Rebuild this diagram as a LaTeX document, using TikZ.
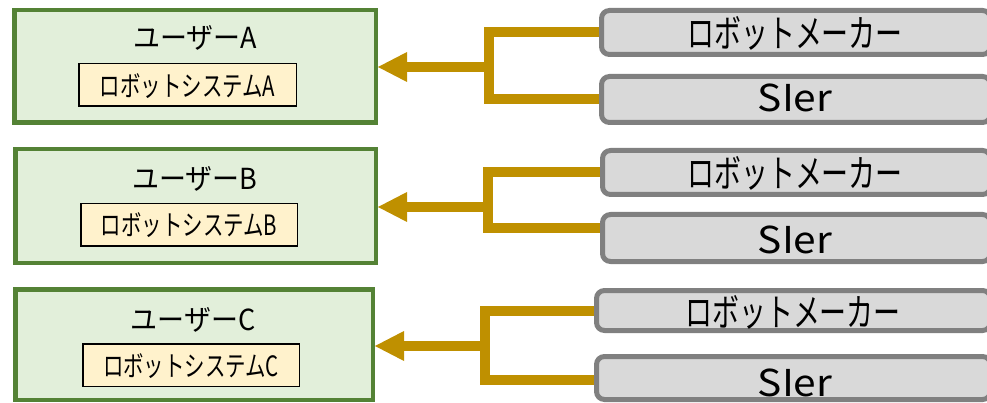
\documentclass[tikz,border=0pt]{standalone}
\usepackage{fontspec}
\setmainfont{Noto Sans CJK JP}
\usetikzlibrary{arrows.meta}
\definecolor{ugreen}{HTML}{548235}
\definecolor{ufill}{HTML}{E2EFDA}
\definecolor{sysfill}{HTML}{FFF2CC}
\definecolor{pgray}{HTML}{808080}
\definecolor{pfill}{HTML}{D9D9D9}
\definecolor{gold}{HTML}{BF9000}
\newcommand{\hsc}[2]{\scalebox{#1}[1]{#2}}
\tikzset{
  userbox/.style={draw=ugreen, fill=ufill, line width=4.5pt, rectangle, inner sep=0pt},
  sysbox/.style={draw=black, fill=sysfill, line width=1.5pt, rectangle, inner sep=0pt},
  partybox/.style={draw=pgray, fill=pfill, line width=5pt, rectangle, rounded corners=8pt, inner sep=0pt},
  conn/.style={draw=gold, line width=10pt},
  tipped/.style={-{Triangle[length=29pt,width=30pt,line width=0pt]}},
  titletext/.style={anchor=base, inner sep=0pt, font=\fontsize{29}{32}\selectfont},
  systext/.style={anchor=base, inner sep=0pt, font=\fontsize{28}{32}\selectfont},
  makertext/.style={anchor=base, inner sep=0pt, font=\fontsize{38}{42}\selectfont},
  siertext/.style={anchor=base, inner sep=0pt, font=\fontsize{37}{40}\selectfont},
}
\begin{document}
\begin{tikzpicture}[x=1pt,y=-1pt]
\useasboundingbox (0,0) rectangle (987,403);
% user boxes
\node[userbox, minimum width=361.5pt, minimum height=112.5pt] (userA) at (195,66.5) {};
\node[userbox, minimum width=360.5pt, minimum height=113.5pt] (userB) at (195.5,206) {};
\node[userbox, minimum width=357.5pt, minimum height=110.5pt] (userC) at (194,344.5) {};
\node[titletext] (tA) at (195,48.3) {\hsc{0.93}{ユーザーA}};
\node[titletext] (tB) at (195,189.3) {\hsc{0.93}{ユーザーB}};
\node[titletext] (tC) at (193,330) {\hsc{0.93}{ユーザーC}};
% system boxes
\node[sysbox, minimum width=217.5pt, minimum height=42.5pt] (sysA) at (187.5,85) {};
\node[sysbox, minimum width=216.5pt, minimum height=42.5pt] (sysB) at (189,225) {};
\node[sysbox, minimum width=216.5pt, minimum height=42.5pt] (sysC) at (191,365) {};
\node[systext] (sA) at (187.5,96.7) {\hsc{0.73}{ロボットシステムA}};
\node[systext] (sB) at (189,236) {\hsc{0.73}{ロボットシステムB}};
\node[systext] (sC) at (191,376.7) {\hsc{0.73}{ロボットシステムC}};
% parties
\node[partybox, minimum width=389pt, minimum height=44pt] (makerA) at (796,32.5) {};
\node[partybox, minimum width=389pt, minimum height=46pt] (sierA) at (796,99.5) {};
\node[partybox, minimum width=388pt, minimum height=44pt] (makerB) at (796.5,172.5) {};
\node[partybox, minimum width=388pt, minimum height=47pt] (sierB) at (796.5,238) {};
\node[partybox, minimum width=394pt, minimum height=40pt] (makerC) at (793.5,310.5) {};
\node[partybox, minimum width=394pt, minimum height=43pt] (sierC) at (793.5,378) {};
\node[makertext] (mtA) at (795,47.5) {\hsc{0.71}{ロボットメーカー}};
\node[makertext] (mtB) at (795,188) {\hsc{0.71}{ロボットメーカー}};
\node[makertext] (mtC) at (793,326.7) {\hsc{0.71}{ロボットメーカー}};
\node[siertext] (stA) at (795,111.7) {\hsc{1.1}{SIer}};
\node[siertext] (stB) at (795,253.3) {\hsc{1.1}{SIer}};
\node[siertext] (stC) at (795,396.7) {\hsc{1.1}{SIer}};
% junctions
\coordinate (jA) at (488.5,67);
\coordinate (jB) at (488,207);
\coordinate (jC) at (485,346);
% connectors
\draw[conn] (makerA.west) -| (jA) |- (sierA.west);
\draw[conn, tipped] (jA) -- (userA.east |- jA);
\draw[conn] (makerB.west) -| (jB) |- ([yshift=10pt]sierB.west);
\draw[conn, tipped] (jB) -- (userB.east |- jB);
\draw[conn] (makerC.west) -| (jC) |- ([yshift=-2pt]sierC.west);
\draw[conn, tipped] (jC) -- (userC.east |- jC);
\end{tikzpicture}
\end{document}
